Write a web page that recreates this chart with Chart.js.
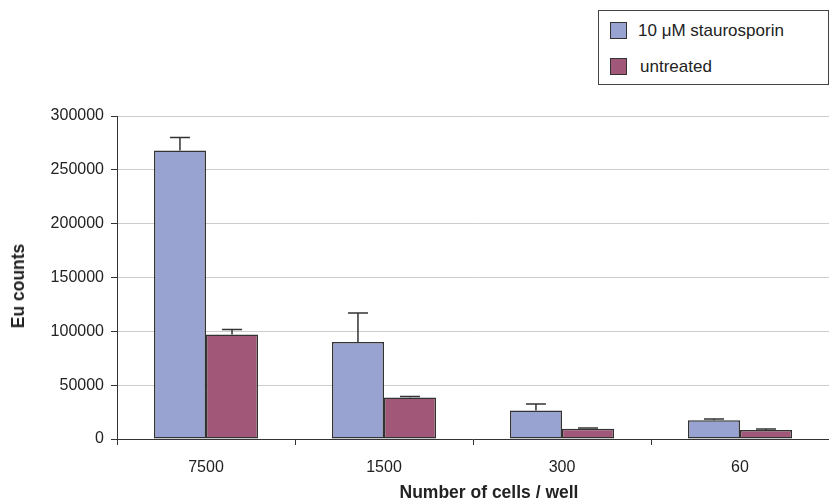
<!DOCTYPE html>
<html>
<head>
<meta charset="utf-8">
<script src="https://cdn.jsdelivr.net/npm/chart.js@4/dist/chart.umd.min.js"></script>
<style>
  html, body { margin: 0; padding: 0; background: #fff; }
  #wrap { position: relative; width: 829px; height: 500px; font-family: Arial, "Liberation Sans", sans-serif; color: #222; }
  #legend {
    position: absolute; left: 598px; top: 10px; width: 229px; height: 73px;
    border: 1px solid #444; background: #fff; font-size: 17px;
  }
  .item { position: absolute; left: 11px; height: 17px; line-height: 17px; }
  .sw { display: inline-block; width: 15px; height: 15px; border: 1px solid #333; vertical-align: top; margin-right: 11px; }
  .axtitle { position: absolute; font-weight: bold; font-size: 17.5px; white-space: nowrap; line-height: 20px; }
  #xtitle { left: 489px; top: 482px; transform: translateX(-50%); }
  #ytitle { left: 18px; top: 286px; transform: translate(-50%, -50%) rotate(-90deg); }
</style>
</head>
<body>
<div id="wrap">
  <canvas id="chart" width="829" height="500"></canvas>
  <div id="legend">
    <div class="item" style="top:11px"><span class="sw" style="background:#99a3d1"></span>10 μM staurosporin</div>
    <div class="item" style="top:47px"><span class="sw" style="background:#a05778"></span><span style="margin-left:2px">untreated</span></div>
  </div>
  <div class="axtitle" id="xtitle">Number of cells / well</div>
  <div class="axtitle" id="ytitle">Eu counts</div>
</div>
<script>
// values
var cellCounts = ['7500', '1500', '300', '60'];
var stauroValues = [268000, 90000, 26500, 17300];
var stauroErrors = [12000, 27000, 6000, 1300];
var untreatedValues = [97100, 38500, 9600, 8400];
var untreatedErrors = [4600, 900, 600, 900];
var yTicks = [0, 50000, 100000, 150000, 200000, 250000, 300000];

var font = 'Arial, "Liberation Sans", sans-serif';

// upper error bars, drawn from the bar top through the y scale
var errorBars = {
  id: 'errorBars',
  afterDatasetsDraw: function(chart) {
    var ctx = chart.ctx;
    var yScale = chart.scales.y;
    ctx.save();
    ctx.strokeStyle = '#333';
    ctx.lineWidth = 1.5;
    chart.data.datasets.forEach(function(ds, i) {
      var meta = chart.getDatasetMeta(i);
      meta.data.forEach(function(bar, j) {
        var top = yScale.getPixelForValue(ds.data[j] + ds.errors[j]);
        ctx.beginPath();
        ctx.moveTo(bar.x, bar.y);
        ctx.lineTo(bar.x, top);
        ctx.moveTo(bar.x - 10, top);
        ctx.lineTo(bar.x + 10, top);
        ctx.stroke();
      });
    });
    ctx.restore();
  }
};

new Chart(document.getElementById('chart'), {
  type: 'bar',
  data: {
    labels: cellCounts,
    datasets: [
      {
        label: '10 μM staurosporin',
        data: stauroValues,
        errors: stauroErrors,
        backgroundColor: '#99a3d1',
        borderColor: '#333',
        borderWidth: 1.5,
        borderSkipped: false,
        barPercentage: 1,
        categoryPercentage: 0.585
      },
      {
        label: 'untreated',
        data: untreatedValues,
        errors: untreatedErrors,
        backgroundColor: '#a05778',
        borderColor: '#333',
        borderWidth: 1.5,
        borderSkipped: false,
        barPercentage: 1,
        categoryPercentage: 0.585
      }
    ]
  },
  options: {
    responsive: false,
    animation: false,
    layout: { padding: { top: 116, right: 0, bottom: 0, left: 0 } },
    plugins: {
      legend: { display: false },
      tooltip: { enabled: false }
    },
    scales: {
      x: {
        afterFit: function(scale) { scale.height = 61; },
        grid: {
          offset: true,
          drawOnChartArea: false,
          color: '#333',
          tickLength: 6
        },
        border: { color: '#333', width: 1 },
        ticks: { color: '#222', font: { family: font, size: 16 }, padding: 13 }
      },
      y: {
        min: 0,
        max: 300000,
        afterFit: function(scale) { scale.width = 117; },
        afterBuildTicks: function(scale) {
          scale.ticks = yTicks.map(function(v) { return { value: v }; });
        },
        grid: {
          color: '#cccccc',
          tickColor: '#333',
          tickLength: 6
        },
        border: { color: '#333', width: 1 },
        ticks: {
          color: '#222',
          font: { family: font, size: 16 },
          padding: 7,
          callback: function(v) { return String(v); }
        }
      }
    }
  },
  plugins: [errorBars]
});
</script>
</body>
</html>
